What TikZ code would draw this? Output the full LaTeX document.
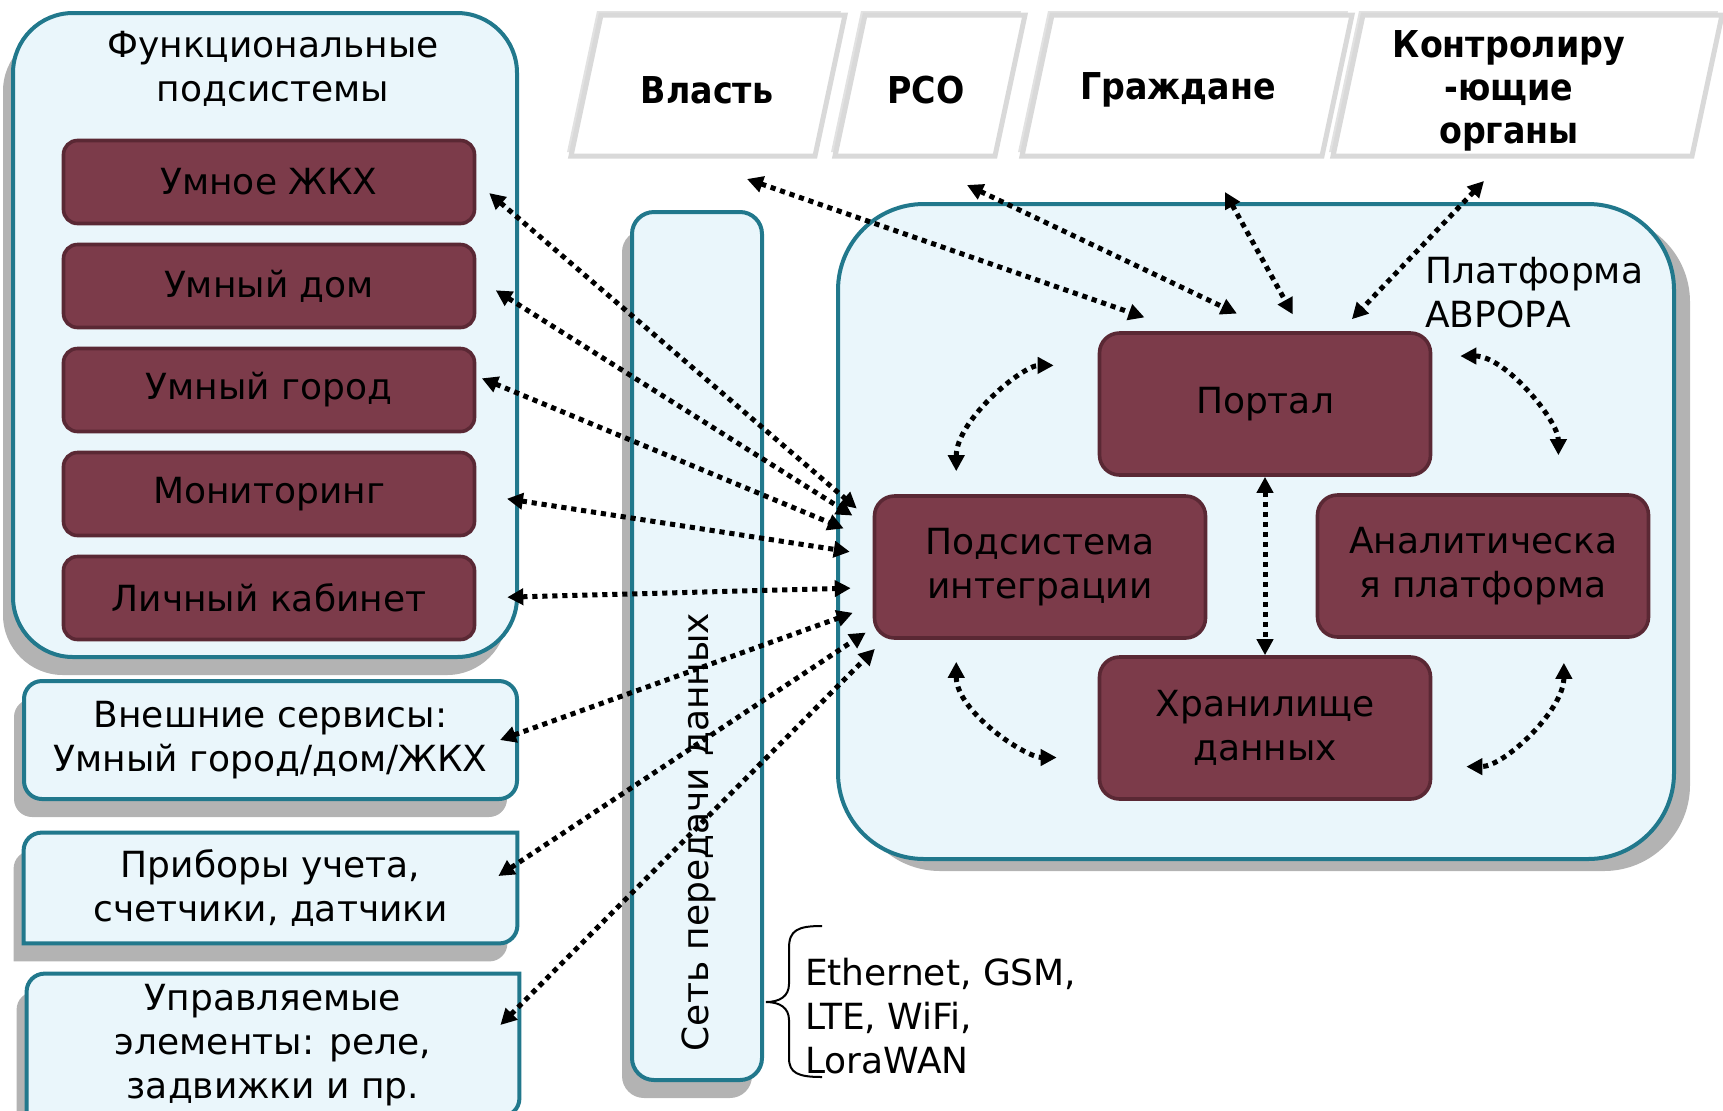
\documentclass[tikz,border=0pt]{standalone}
\usepackage{fontspec}
\setmainfont{DejaVu Sans}
\newfontfamily\headfont{DejaVu Sans}[FakeStretch=0.9]
\usepackage{tikz}
\usetikzlibrary{arrows.meta,positioning,shadows,backgrounds}

\definecolor{paleblue}{RGB}{234,246,251}
\definecolor{tealline}{RGB}{33,120,140}
\definecolor{subred}{RGB}{124,59,74}
\definecolor{subline}{RGB}{90,40,52}

\begin{document}
\begin{tikzpicture}[x=0.5pt, y=-0.5pt, >={Triangle[length=8pt,width=8pt]}, node distance=52pt,
    font=\fontsize{18}{22}\selectfont,
    panel/.style={draw=tealline, fill=paleblue, line width=2pt},
    shadowL/.style={general shadow={fill=gray!85, opacity=.7, shadow xshift=-5pt, shadow yshift=-9pt}},
    shadowR/.style={general shadow={fill=gray!85, opacity=.7, shadow xshift=8pt, shadow yshift=-6pt}},
    fsub/.style={draw=subline, fill=subred, line width=1.8pt, rounded corners=7pt,
                 minimum width=205.5pt, minimum height=41.5pt, align=center},
    psub/.style={fsub, rounded corners=10pt, minimum width=165.5pt, minimum height=71pt},
    head/.style={font=\fontsize{18.5}{21.5}\headfont\bfseries, align=center},
    dlink/.style={<->, line width=2.5pt, dash pattern=on 2.6pt off 2.4pt}]
    \useasboundingbox (0,0) rectangle (1723,1110);

    % Top parallelograms {Власть, РСО, Граждане, Контролирующие}
    \foreach \l/\r in {571/815, 835/995, 1022/1322, 1333/1692} {
        \fill [gray!45, opacity=.5] (\l-4,152) -- (\l+26,11) -- (\r+26,11) -- (\r-4,152) -- cycle;
        \draw [gray!30, fill=white, line width=2.5pt] (\l,156) -- (\l+30,15) -- (\r+30,15) -- (\r,156) -- cycle;
    }
    \node [head] (vlast)   at (707,90)  {Власть};
    \node [head] (rso)     at (926,90)  {РСО};
    \node [head] (grazh)   at (1178,90) {Граждане};
    \node [head] (kontrol) at (1509,91) {Контролиру\\-ющие\\органы};

    % Nodes {funcs, zkh, dom, gorod, monit, kabinet}
    \node [panel, shadowL, rounded corners=30pt, minimum width=252pt, minimum height=322pt] (funcs) at (265,335) {};
    \node [align=center] (funcstitle) at (273,69) {Функциональные\\подсистемы};
    \node [fsub]    (zkh)     at (269,182)        {Умное ЖКХ};
    \node [fsub]    (dom)     [below of=zkh]      {Умный дом};
    \node [fsub]    (gorod)   [below of=dom]      {Умный город};
    \node [fsub]    (monit)   [below of=gorod]    {Мониторинг};
    \node [fsub]    (kabinet) [below of=monit]    {Личный кабинет};

    % Nodes {vnesh, pribor, upravl}
    \node [panel, shadowL, rounded corners=9pt, minimum width=246.5pt, minimum height=59pt, align=center]
          (vnesh) at (270.5,740) {Внешние сервисы:\\Умный город/дом/ЖКХ};
    \node [minimum width=246.5pt, minimum height=55pt, align=center] (pribor) at (270.5,888) {Приборы учета,\\счетчики, датчики};
    \node [minimum width=246pt, minimum height=71pt, align=center] (upravl) at (273,1045) {Управляемые\\элементы: реле,\\задвижки и пр.};
    \begin{scope}[on background layer]
        \foreach \n in {pribor, upravl}
            \draw [panel, shadowL] (\n.south west) -- ([yshift=-9pt]\n.north west)
                arc [start angle=180, end angle=90, radius=9pt] -- (\n.north east)
                -- ([yshift=9pt]\n.south east) arc [start angle=0, end angle=-90, radius=9pt] -- cycle;
    \end{scope}

    % Network
    \node [panel, shadowL, rounded corners=11pt, minimum width=65pt, minimum height=434pt] (net) at (697,646) {};
    \node [rotate=90] (nettext) at (699,832) {Сеть передачи данных};
    \draw [line width=1pt] (822,926) .. controls (798,926) and (789,930) .. (789,948) -- (789,984)
        .. controls (789,996) and (780,1002) .. (766,1002) .. controls (780,1002) and (789,1008) .. (789,1020)
        -- (789,1058) .. controls (789,1073) and (798,1077) .. (822,1077);
    \node [anchor=west, align=left] (tech) at (798,1016) {Ethernet, GSM,\\LTE, WiFi,\\LoraWAN};

    % Nodes {platform, portal, integr, analyt, store}
    \node [panel, shadowR, rounded corners=43pt, minimum width=418pt, minimum height=327.5pt] (platform) at (1256,531.5) {};
    \node [anchor=west, align=left] (plattitle) at (1418,293) {Платформа\\АВРОРА};
    \node [psub] (portal) at (1265,404) {Портал};
    \node [psub] (integr) at (1040,567) {Подсистема\\интеграции};
    \node [psub] (analyt) at (1483,566) {Аналитическа\\я платформа};
    \node [psub, node distance=162pt] (store) [below of=portal] {Хранилище\\данных};

    % Paths
    \coordinate (vlastEnd)   at (747,179);
    \coordinate (rsoEnd)     at (967,185);
    \coordinate (grazhEnd)   at (1225,192);
    \coordinate (kontrolEnd) at (1484,181);
    \draw [dlink, shorten >=21pt]   (vlastEnd)   -- (portal.138.9);
    \draw [dlink, shorten >=20.5pt] (rsoEnd)     -- (portal.83.6);
    \draw [dlink, shorten >=9.6pt]  (grazhEnd)   -- (portal.63.9);
    \draw [dlink, shorten >=8.3pt]  (kontrolEnd) -- (portal.44.2);

    \draw [dlink, shorten <=8.5pt,  shorten >=10.5pt] (zkh.east)                 -- (integr.165.8);
    \draw [dlink, shorten <=11.5pt, shorten >=12pt]   ([yshift=4pt]dom.east)     -- (integr.167.4);
    \draw [dlink, shorten <=3pt,    shorten >=15.7pt] ([yshift=7pt]gorod.east)   -- (integr.171.4);
    \draw [dlink, shorten <=15.5pt, shorten >=11.6pt] (monit.east)               -- (integr.176.2);
    \draw [dlink, shorten <=15.5pt, shorten >=11pt]   (kabinet.east)             -- (integr.187.2);
    \draw [dlink, shorten >=10.6pt] ([xshift=-9.5pt]vnesh.east)                  -- (integr.193.9);
    \draw [dlink, shorten >=4.2pt]  ([xshift=-9.5pt, yshift=6pt]pribor.east)     -- (integr.200.8);
    \draw [dlink, shorten >=6.4pt]  ([xshift=-9.5pt, yshift=10pt]upravl.east)    -- (integr.205.2);

    \draw [dlink, shorten <=11.5pt, shorten >=22pt]   (integr.139)   to [out=90, in=180]  (portal.167.1);
    \draw [dlink, shorten <=11pt,   shorten >=20.5pt] (integr.221)   to [out=-90, in=180] (store.190.2);
    \draw [dlink, shorten <=14pt,   shorten >=19pt]   (portal.16.8)  to [out=0, in=90]    (analyt.44.8);
    \draw [dlink, shorten <=12pt,   shorten >=17pt]   (analyt.-42.5) to [out=-90, in=0]   (store.-13.9);
    \draw [dlink] (portal.south) -- (store.north);
\end{tikzpicture}
\end{document}
